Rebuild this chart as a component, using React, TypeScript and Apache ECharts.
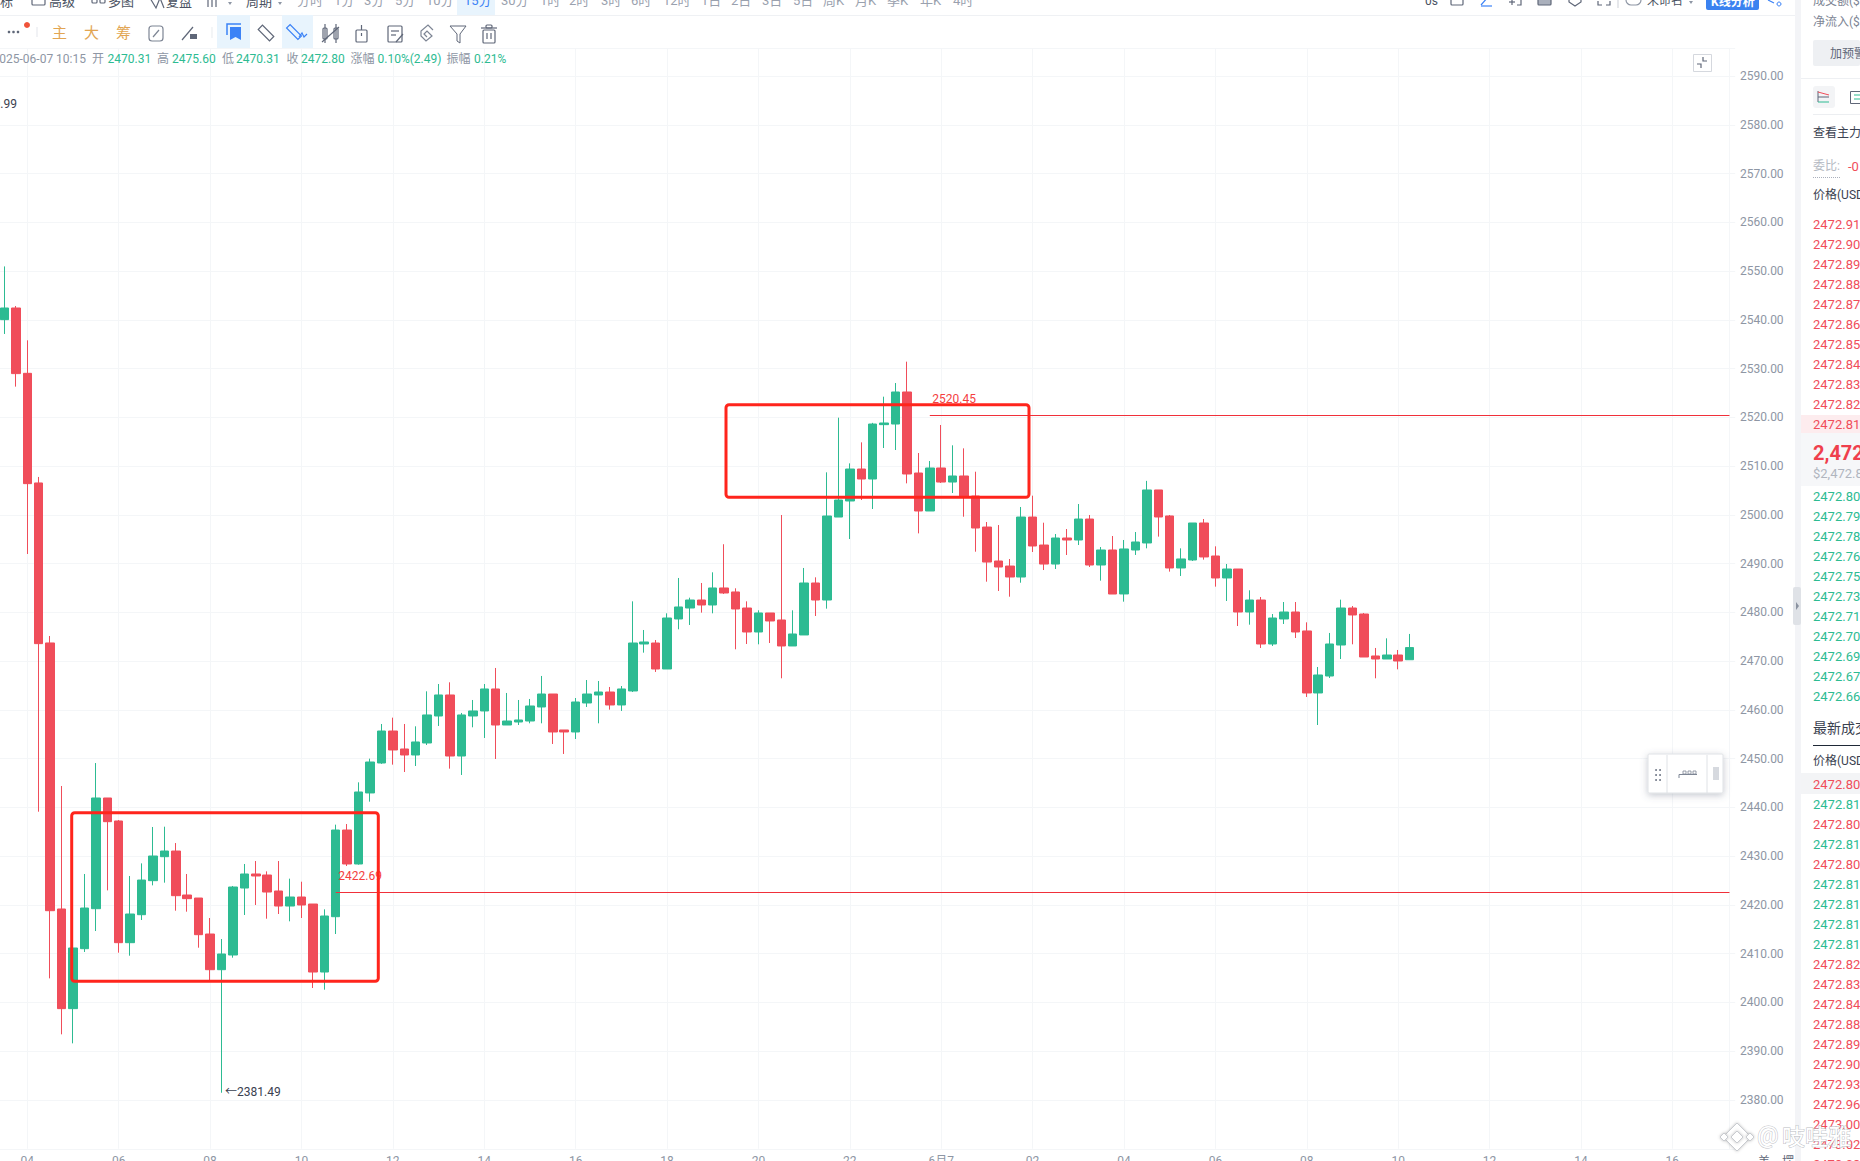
import React, { useEffect, useRef } from "react";
import * as echarts from "echarts";

const opens = [2540.07,2542.46,2529.06,2506.57,2473.75,2419.18,2398.74,2411.04,2419.24,2441.95,2437.23,2412.27,2418.01,2424.99,2429.91,2431.07,2422.05,2421.43,2414.05,2406.73,2409.74,2423.48,2426.36,2426.15,2422.87,2419.79,2421.64,2420.2,2406.25,2417.6,2435.38,2428.41,2442.98,2449.13,2455.69,2452,2450.77,2453.23,2458.77,2463.08,2450.56,2458.77,2459.8,2464.31,2456.92,2457.54,2457.74,2460.62,2463.28,2455.9,2455.49,2461.44,2463.08,2463.69,2461.03,2463.9,2473.54,2473.74,2468.41,2478.67,2480.92,2482.56,2481.54,2485.03,2484.21,2480.92,2476,2479.9,2478.46,2473.13,2475.39,2486.05,2482.56,2499.58,2502.87,2509.43,2507.38,2518.53,2518.66,2525.23,2508.61,2500.82,2509.64,2506.76,2508,2503.89,2497.53,2490.56,2489.53,2487.28,2499.58,2493.84,2489.94,2495.28,2494.87,2499.17,2489.74,2492.82,2483.8,2492.82,2494.26,2505.13,2499.8,2489.13,2490.77,2498.36,2491.59,2487.08,2488.92,2480.1,2482.56,2473.54,2478.67,2480.1,2476.21,2463.49,2466.97,2473.33,2480.92,2479.69,2471.08,2470.46,2471.28,2470.31];
const closes = [2542.46,2529,2506.43,2473.61,2418.83,2398.74,2411.18,2419.38,2441.95,2437.09,2412.27,2418.15,2425.12,2430.05,2431.07,2421.91,2421.3,2413.91,2406.73,2409.95,2423.69,2426.36,2425.95,2422.66,2419.79,2421.64,2420,2406.25,2417.74,2435.38,2428.41,2443.18,2449.33,2455.69,2451.8,2450.77,2453.44,2458.98,2463.08,2450.56,2458.98,2459.8,2464.31,2456.92,2457.74,2457.95,2460.82,2463.28,2455.49,2455.49,2461.64,2463.28,2463.69,2461.03,2464.31,2473.74,2473.95,2468.41,2478.87,2481.13,2482.56,2481.54,2485.03,2484,2480.72,2476,2479.9,2478.26,2473.13,2475.59,2486.05,2482.56,2499.79,2503.07,2509.43,2507.38,2518.66,2518.87,2525.23,2508.41,2500.82,2509.64,2506.76,2508,2503.62,2497.33,2490.35,2489.33,2487.28,2499.58,2493.64,2489.94,2495.28,2494.87,2499.17,2489.74,2492.82,2483.79,2493.03,2494.46,2505.13,2499.59,2489.13,2490.98,2498.36,2491.39,2487.08,2488.92,2480.1,2482.56,2473.54,2478.87,2480.1,2476,2463.49,2467.18,2473.54,2480.92,2479.49,2470.87,2470.46,2471.28,2470.05,2472.8];
const lows = [2537.13,2526.33,2492,2439.14,2404.95,2393.47,2391.62,2410.36,2414.66,2423,2410.22,2409.6,2416.92,2424.03,2424.58,2418.83,2418.63,2411.24,2404.41,2381.49,2409.19,2417.95,2420,2417.19,2418.15,2416.65,2417.33,2402.97,2402.63,2414.05,2428,2428.27,2441.2,2448.95,2448.79,2447.28,2448.51,2452.82,2456.72,2447.97,2446.67,2456.45,2454.26,2449.95,2456.92,2456.92,2457.27,2457.27,2453.03,2450.98,2454.05,2460.62,2457.27,2460.07,2459.8,2463.69,2471.76,2467.8,2468.41,2476.55,2477.44,2479.97,2479.83,2483.8,2472.45,2473.54,2473.47,2473.74,2466.5,2473.13,2475.39,2479.28,2480.79,2499.58,2495.07,2503.07,2501.23,2513.74,2513.33,2506.49,2496.23,2500.82,2506.56,2504.51,2499.65,2492.47,2486.32,2484.41,2483.24,2486.11,2492.41,2488.71,2488.92,2491.79,2493.84,2489.33,2486.53,2483.79,2482.22,2491.8,2493.16,2495.56,2488.38,2487.49,2490.56,2490.84,2485.3,2482.36,2477.23,2477.5,2472.72,2473.13,2477.64,2474.77,2462.67,2456.92,2466.56,2470.46,2473.47,2470.87,2466.5,2470.46,2468.34,2470.31];
const highs = [2550.99,2542.87,2535.83,2507.8,2475.18,2444.41,2429.91,2426.36,2449.12,2441.95,2437.43,2425.95,2428.54,2436,2436.06,2432.71,2426.36,2421.43,2417.33,2413.02,2423.9,2428.41,2429.02,2426.9,2429.02,2425.4,2424.78,2420.2,2419.11,2436.48,2436.61,2445.16,2450.02,2457.13,2458.43,2457.13,2456.65,2463.83,2465.33,2465.68,2459.39,2462.05,2465.33,2468.62,2463.49,2462.05,2462.26,2466.98,2463.28,2455.9,2462.46,2466.15,2465.95,2464.72,2464.92,2482.29,2476.41,2474.36,2479.83,2487.08,2483.04,2486.05,2488.24,2494,2484.96,2482.29,2480.45,2479.9,2500,2480.45,2489.13,2487.21,2508.75,2519.96,2510.59,2514.9,2518.9,2524.27,2527.07,2531.45,2512.71,2511.07,2518.46,2514.29,2513.67,2508.88,2498.56,2497.94,2490.97,2501.64,2503.96,2498.42,2496.1,2497.12,2502.25,2500,2493.43,2495.69,2494.87,2496.51,2507,2505.13,2500,2493.16,2498.36,2499.18,2493.57,2489.95,2488.92,2484.55,2483.18,2479.69,2482.15,2482.15,2477.98,2468.82,2475.8,2482.63,2481.33,2479.9,2472.72,2474.7,2472.31,2475.6];

const BAR_COUNT = 152;
const HOUR_LABEL_STEP = 8;
const FIRST_HOUR_INDEX = 2;
const tickLabels = ["04","06","08","10","12","14","16","18","20","22","6月7","02","04","06","08","10","12","14","16"];
const categories = Array.from({ length: BAR_COUNT }, (_, i) => `bar-${i}`);

const resistanceLevel = 2520.45;
const supportLevel = 2422.69;
const lowLabel = 2381.49;

const askPrices = ["2472.91","2472.90","2472.89","2472.88","2472.87","2472.86","2472.85","2472.84","2472.83","2472.82","2472.81"];
const bidPrices = ["2472.80","2472.79","2472.78","2472.76","2472.75","2472.73","2472.71","2472.70","2472.69","2472.67","2472.66"];
const tradePrices = ["2472.80","2472.81","2472.80","2472.81","2472.80","2472.81","2472.81","2472.81","2472.81","2472.82","2472.83","2472.84","2472.88","2472.89","2472.90","2472.93","2472.96","2473.00","2473.02","2473.08"];
const tradeIsUp = [false,true,false,true,false,true,true,true,true,false,false,false,false,false,false,false,false,false,false,false];
const periodLabels = ["分时","1分","3分","5分","10分","15分","30分","1时","2时","3时","6时","12时","1日","2日","3日","5日","周K","月K","季K","年K","4时"];
const periodX = [297,334,364,395,426,464,501,540,569,601,631,663,701,731,762,793,823,855,887,920,953];

const GREEN = "#2dbb92";
const RED = "#f04d5a";
const GRID = "#f4f6f8";
const AXIS_TEXT = "#8e96a4";
const ICON = "#5f6778";
const FONT = 'Roboto, "Noto Sans CJK SC", sans-serif';
const Z = 10;

const t = (text: string, x: number, y: number, fill: string, size = 12, extra: any = {}) => ({
  type: "text", z: Z, x, y,
  style: { text, fill, fontSize: size, fontFamily: FONT, align: "left", verticalAlign: "middle", ...extra },
});
const ln = (x1: number, y1: number, x2: number, y2: number, stroke = ICON, lineWidth = 1.2) => ({
  type: "line", z: Z, shape: { x1, y1, x2, y2 }, style: { stroke, lineWidth },
});
const box = (x: number, y: number, width: number, height: number, stroke = ICON, r = 1, lineWidth = 1.2, fill = "none") => ({
  type: "rect", z: Z, shape: { x, y, width, height, r }, style: { stroke, fill, lineWidth },
});
const fillRect = (x: number, y: number, width: number, height: number, fill: string, r = 0, z = Z - 1) => ({
  type: "rect", z, shape: { x, y, width, height, r }, style: { fill },
});
const poly = (points: number[][], stroke = ICON, lineWidth = 1.2) => ({
  type: "polyline", z: Z, shape: { points }, style: { stroke, lineWidth, fill: "none" },
});
const pgon = (points: number[][], fill: string, stroke = "none") => ({
  type: "polygon", z: Z, shape: { points }, style: { fill, stroke },
});
const dot = (cx: number, cy: number, r: number, fill: string) => ({
  type: "circle", z: Z, shape: { cx, cy, r }, style: { fill },
});

function chrome(): any[] {
  const e: any[] = [];
  // panels and dividers
  e.push(fillRect(0, 15, 1795, 1, "#eff1f4"));
  e.push(fillRect(1795, 0, 6, 1161, "#f3f4f7"));
  e.push(fillRect(1793, 587, 8, 38, "#dfe2e7", 2));
  e.push(pgon([[1796, 602], [1799, 606], [1796, 610]], "#8a92a0"));
  e.push(fillRect(1801, 78, 59, 1, "#eef0f3"));

  // top menu
  e.push(t("标", 0, 1, "#4a5262", 13));
  e.push(box(32, -5, 13, 10));
  e.push(t("高级", 49, 1, "#4a5262", 13));
  e.push(box(92, -5, 5, 8), box(100, -5, 5, 8));
  e.push(t("多图", 108, 1, "#4a5262", 13));
  e.push(poly([[150, -2], [156, 8], [160, -2], [164, 8]]));
  e.push(t("复盘", 166, 1, "#4a5262", 13));
  e.push(ln(208, 0, 208, 7), ln(212, 0, 212, 7), ln(216, 0, 216, 7));
  e.push(pgon([[228, 2], [232, 2], [230, 5]], "#8e96a4"));
  e.push(t("周期", 246, 1, "#4a5262", 13));
  e.push(pgon([[278, 2], [282, 2], [280, 5]], "#8e96a4"));
  e.push(fillRect(457, 0, 38, 15, "#e8f4fd"));
  periodLabels.forEach((p, i) => e.push(t(p, periodX[i], 0, p === "15分" ? "#3b82f6" : "#9aa1ae", 13)));

  // top right
  e.push(t("0s", 1425, 1, "#4a5262", 12));
  e.push(box(1451, -4, 12, 9));
  e.push(poly([[1481, 5], [1488, -3]], "#3b82f6"), ln(1481, 6, 1492, 6, "#3b82f6"));
  e.push(ln(1509, 2, 1515, 2), ln(1512, -1, 1512, 5), poly([[1517, 5], [1521, 5], [1521, -3]]));
  e.push(box(1538, -4, 13, 9, ICON, 1, 1.2, "#aab0bc"));
  e.push(poly([[1569, -2], [1569, 2], [1575, 6], [1581, 2], [1581, -2]]));
  e.push(poly([[1598, 1], [1598, 5], [1602, 5]]), poly([[1610, 1], [1610, 5], [1606, 5]]));
  e.push(ln(1618, 0, 1618, 8, "#d5d8de"));
  e.push(box(1626, -6, 15, 11, "#8e96a4", 5));
  e.push(t("未命名", 1647, 1, "#4a5262", 12));
  e.push(pgon([[1689, 1], [1693, 1], [1691, 4]], "#8e96a4"));
  e.push(fillRect(1706, -4, 53, 14, "#3b82f0", 2));
  e.push(t("K线分析", 1711, 2, "#ffffff", 12, { fontWeight: "bold" }));
  e.push(ln(1768, 0, 1774, 3, "#3b82f6"), { type: "circle", z: Z, shape: { cx: 1779, cy: 4, r: 2 }, style: { stroke: "#3b82f6", fill: "none" } });

  // drawing toolbar
  e.push(dot(9, 32, 1.3, ICON), dot(13.5, 32, 1.3, ICON), dot(18, 32, 1.3, ICON));
  e.push(dot(27, 25, 3, "#f0533a"));
  e.push(ln(37, 27, 37, 37, "#e8eaee"));
  e.push(t("主", 52, 33, "#e2a552", 15), t("大", 84, 33, "#e2a552", 15), t("筹", 116, 33, "#e2a552", 15));
  e.push(box(149, 26, 14, 15, "#7d8594", 3));
  e.push(ln(153, 37, 159, 30, "#7d8594"));
  e.push(ln(182, 40, 193, 27), pgon([[190, 34], [197, 34], [197, 39], [190, 39]], ICON));
  e.push(ln(212, 27, 212, 38, "#eceef1"));
  e.push(fillRect(217, 15, 33, 33, "#e8f4fd"));
  e.push(poly([[227, 35], [227, 24], [241, 24]], "#3b82f6", 1.5));
  e.push(pgon([[230, 27], [241, 27], [241, 40], [235.5, 37], [230, 40]], "#3b82f6"));
  e.push({ type: "rect", z: Z, x: 266, y: 33, rotation: -Math.PI / 4, shape: { x: -8, y: -3, width: 16, height: 6 }, style: { stroke: ICON, fill: "none", lineWidth: 1.2 } });
  e.push(fillRect(282, 15, 31, 33, "#e8f4fd"));
  e.push({ type: "rect", z: Z, x: 294, y: 32, rotation: -Math.PI / 4, shape: { x: -8, y: -2.5, width: 16, height: 5 }, style: { stroke: "#3b82f6", fill: "none", lineWidth: 1.2 } });
  e.push(poly([[299, 37], [302, 33], [304, 37], [307, 34]], "#3b82f6"));
  e.push(box(323, 28, 4, 11), ln(325, 24, 325, 43), box(334, 28, 4, 11), ln(336, 24, 336, 43), ln(322, 42, 339, 27));
  e.push(box(356, 30, 11, 12), ln(361.5, 25, 361.5, 30), ln(361.5, 33, 361.5, 36));
  e.push(box(388, 26, 14, 16), ln(391, 31, 399, 31), ln(391, 35, 396, 35), ln(396, 42, 403, 34));
  e.push(poly([[433, 30], [428, 25], [421, 31], [421, 36], [426, 41], [432, 36], [427, 31], [424, 34], [427, 37]], "#7d8594"));
  e.push(pgon([[450, 26], [466, 26], [460, 34], [460, 43], [457, 41], [457, 34]], "none", ICON));
  e.push(box(483, 30, 12, 13), ln(481, 28, 497, 28), box(486, 25, 6, 3), ln(487, 33, 487, 39), ln(491, 33, 491, 39));

  // OHLC info line
  const info = 59;
  e.push(t("2025-06-07 10:15", 86, info, AXIS_TEXT, 12, { align: "right" }));
  e.push(t("开", 92, info, AXIS_TEXT), t("2470.31", 107.5, info, GREEN));
  e.push(t("高", 157, info, AXIS_TEXT), t("2475.60", 172, info, GREEN));
  e.push(t("低", 222, info, AXIS_TEXT), t("2470.31", 236, info, GREEN));
  e.push(t("收", 286.5, info, AXIS_TEXT), t("2472.80", 301, info, GREEN));
  e.push(t("涨幅", 350.5, info, AXIS_TEXT), t("0.10%(2.49)", 377.5, info, GREEN));
  e.push(t("振幅", 446.5, info, AXIS_TEXT), t("0.21%", 474, info, GREEN));
  e.push(t("2550.99", 17, 104, "#3a4150", 12, { align: "right" }));

  // collapse button
  e.push(box(1693.5, 54.5, 18, 17, "#d5d8de", 0, 1, "#ffffff"));
  e.push(poly([[1703, 57], [1703, 61], [1707, 61]], ICON), poly([[1697, 64], [1701, 64], [1701, 68]], ICON));

  // annotations
  e.push(box(71.7, 812.7, 306.6, 168.6, "#ff251c", 3, 3));
  e.push(box(726, 404.7, 303, 92.6, "#ff251c", 3, 3));

  // floating tool
  e.push({ type: "rect", z: Z, shape: { x: 1648, y: 754, width: 75, height: 39, r: 1 }, style: { fill: "#ffffff", stroke: "#dfe2e6", lineWidth: 1, shadowBlur: 7, shadowColor: "rgba(90,100,120,0.35)", shadowOffsetY: 2 } });
  e.push(ln(1667, 755, 1667, 793, "#dfe2e6", 1), ln(1707, 755, 1707, 793, "#dfe2e6", 1));
  [[1656, 770], [1660, 770], [1656, 775], [1660, 775], [1656, 780], [1660, 780]].forEach(([cx, cy]) => e.push(dot(cx, cy, 0.9, ICON)));
  e.push(poly([[1679, 778], [1679, 774.5], [1697, 774.5]], "#7d8594", 1));
  e.push(box(1683, 771, 3, 3, "#7d8594", 0, 0.8), box(1688, 771, 3, 3, "#7d8594", 0, 0.8), box(1693, 771, 3, 3, "#7d8594", 0, 0.8));
  e.push(ln(1714, 767, 1714, 780, "#9aa1ae", 0.8), ln(1716, 767, 1716, 780, "#9aa1ae", 0.8), ln(1718, 767, 1718, 780, "#9aa1ae", 0.8));

  // right panel top
  e.push(t("成交额($", 1813, 1, "#7d8594", 12));
  e.push(t("净流入($", 1813, 22, "#7d8594", 12));
  e.push(fillRect(1813, 40, 47, 26, "#eef0f3", 2));
  e.push(t("加预警", 1830, 54, "#5f6778", 12));
  e.push(fillRect(1813, 86, 22, 22, "#f3f4f6", 3));
  e.push(poly([[1818, 91], [1818, 102]], "#5f6778", 1), ln(1818, 92, 1829, 95, RED, 1), ln(1818, 97, 1829, 97, "#5f6778", 1), ln(1818, 102, 1829, 102, GREEN, 1));
  e.push(box(1850.5, 91.5, 12, 12, "#5f6778", 0, 1), ln(1854, 95, 1860, 95, GREEN, 1), ln(1854, 99, 1860, 99, GREEN, 1));
  e.push(fillRect(1813, 114, 47, 1, "#eceef1"));
  e.push(t("查看主力", 1813, 133, "#3a4150", 12));
  e.push(t("委比:", 1813, 166, "#b4b9c2", 12));
  e.push({ type: "line", z: Z, shape: { x1: 1813, y1: 177.5, x2: 1840, y2: 177.5 }, style: { stroke: "#aab0bc", lineWidth: 1, lineDash: [1, 1] } });
  e.push(t("-0", 1848, 166, RED, 13));
  e.push(t("价格(USD", 1813, 195, "#3a4150", 12));

  // order book
  askPrices.forEach((p, i) => e.push(t(p, 1813, 224 + i * 20, RED, 13, { fontFamily: "Roboto" })));
  e.push(fillRect(1801, 415, 59, 18, "#fdecee"));
  e.push(fillRect(1801, 433, 59, 53, "#f6f7f9"));
  e.push(t("2,472", 1813, 453, "#ef3f4d", 20, { fontWeight: "bold", fontFamily: "Roboto" }));
  e.push(t("$2,472.8", 1813, 473, "#b0b5bf", 13));
  bidPrices.forEach((p, i) => e.push(t(p, 1813, 496.5 + i * 20, GREEN, 13, { fontFamily: "Roboto" })));
  e.push(t("最新成交", 1813, 728, "#3a4150", 14));
  e.push(fillRect(1813, 745, 47, 1, "#1f2937"));
  e.push(t("价格(USD", 1813, 761, "#3a4150", 12));
  e.push(fillRect(1801, 773, 59, 21, "#f3f4f6"));
  tradePrices.forEach((p, i) => e.push(t(p, 1813, 784 + i * 20, tradeIsUp[i] ? GREEN : RED, 13, { fontFamily: "Roboto" })));

  // bottom right buttons
  e.push(t("美", 1758, 1162, "#5f6778", 12), t("摆", 1782, 1162, "#5f6778", 12));

  // watermark
  const mark = { stroke: "#c9ccd1", fill: "#ffffff", lineWidth: 1, shadowBlur: 3, shadowColor: "rgba(120,120,120,0.5)" };
  const diamond = (cx: number, cy: number, r: number) => ({
    type: "polygon", z: Z + 1, shape: { points: [[cx, cy - r], [cx + r, cy], [cx, cy + r], [cx - r, cy]] }, style: mark,
  });
  e.push(diamond(1737, 1137, 14), diamond(1737, 1137, 6), diamond(1724, 1137, 4), diamond(1750, 1137, 4));
  e.push({ type: "text", z: Z + 1, x: 1757, y: 1135, style: { text: "@", fontSize: 24, fontFamily: FONT, fill: "#ffffff", stroke: "#bfc2c7", lineWidth: 1, verticalAlign: "middle", shadowBlur: 3, shadowColor: "rgba(120,120,120,0.5)" } });
  e.push({ type: "text", z: Z + 1, x: 1782, y: 1137, style: { text: "吱哇雅", fontSize: 23, fontFamily: FONT, fill: "#ffffff", stroke: "#b9bcc2", lineWidth: 1, verticalAlign: "middle", shadowBlur: 3, shadowColor: "rgba(120,120,120,0.5)" } });
  return e;
}

export default function App() {
  const ref = useRef<HTMLDivElement>(null);
  useEffect(() => {
    if (!ref.current) return;
    const chart = echarts.init(ref.current, undefined, { renderer: "svg" });
    const isHourTick = (index: number) => (index - FIRST_HOUR_INDEX) % HOUR_LABEL_STEP === 0 && index >= FIRST_HOUR_INDEX;
    const ohlc = opens.map((o, i) => [o, closes[i], lows[i], highs[i]]);
    chart.setOption({
      animation: false,
      backgroundColor: "#ffffff",
      grid: { left: -1.26, top: 48.3, width: 1736.45, height: 1100.45, outerBoundsMode: "none" },
      xAxis: {
        type: "category",
        data: categories,
        boundaryGap: true,
        axisLine: { show: false },
        axisTick: { show: false },
        axisLabel: {
          interval: (index: number) => isHourTick(index),
          formatter: (_: string, index: number) => tickLabels[(index - FIRST_HOUR_INDEX) / HOUR_LABEL_STEP] ?? "",
          color: AXIS_TEXT,
          fontSize: 12,
          fontFamily: FONT,
          margin: 6,
        },
        splitLine: {
          show: true,
          alignWithLabel: true,
          interval: (index: number) => isHourTick(index),
          lineStyle: { color: GRID, width: 1 },
        },
      },
      yAxis: {
        type: "value",
        position: "right",
        min: 2370,
        max: 2595.73,
        interval: 10,
        offset: -5.6,
        scale: true,
        axisLine: { show: true, lineStyle: { color: GRID } },
        axisTick: { show: false },
        axisLabel: {
          showMinLabel: false,
          showMaxLabel: false,
          margin: 10.4,
          color: AXIS_TEXT,
          fontSize: 12,
          fontFamily: FONT,
          formatter: (v: number) => v.toFixed(2),
        },
        splitLine: { show: true, lineStyle: { color: GRID, width: 1 } },
      },
      series: [
        {
          type: "candlestick",
          data: ohlc,
          barWidth: 9,
          clip: false,
          itemStyle: { color: GREEN, color0: RED, borderColor: GREEN, borderColor0: RED, borderWidth: 1 },
          markLine: {
            silent: true,
            symbol: "none",
            label: { show: false },
            lineStyle: { color: "#f0303a", width: 1, type: "solid" },
            data: [
              [{ coord: [81, resistanceLevel] }, { coord: [151, resistanceLevel] }],
              [{ coord: [29, supportLevel] }, { coord: [151, supportLevel] }],
            ],
          },
          markPoint: {
            silent: true,
            symbol: "circle",
            symbolSize: 1,
            itemStyle: { color: "rgba(0,0,0,0)" },
            data: [
              { coord: [81, resistanceLevel], label: { show: true, position: "right", distance: 0, offset: [2, -16.5], formatter: String(resistanceLevel), color: "#f4403f", fontSize: 12, fontFamily: FONT } },
              { coord: [29, supportLevel], label: { show: true, position: "right", distance: 0, offset: [2, -16], formatter: String(supportLevel), color: "#f4403f", fontSize: 12, fontFamily: FONT } },
              { coord: [19, lowLabel], label: { show: true, position: "right", distance: 0, offset: [3, -1], formatter: `←${lowLabel}`, color: "#3a4150", fontSize: 12, fontFamily: FONT } },
            ],
          },
        },
      ],
      graphic: { elements: chrome() },
    });
    return () => chart.dispose();
  }, []);
  return (
    <div style={{ position: "fixed", left: 0, top: 0, width: 1860, height: 1161, overflow: "hidden", background: "#fff" }}>
      <div ref={ref} style={{ width: 1860, height: 1161 }} />
    </div>
  );
}
